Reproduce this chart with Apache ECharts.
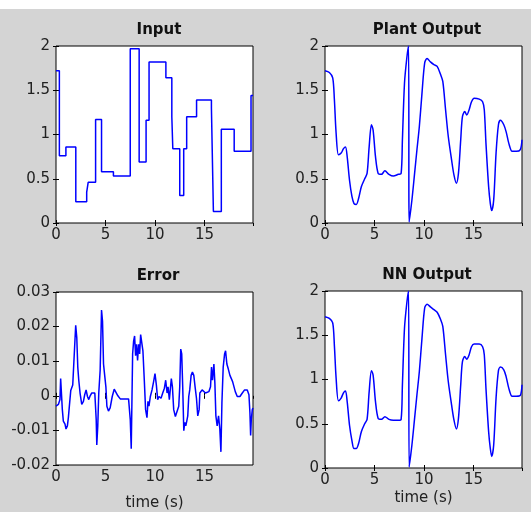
<!DOCTYPE html>
<html>
<head>
<meta charset="utf-8">
<script src="https://cdn.jsdelivr.net/npm/echarts@6/dist/echarts.min.js"></script>
<style>
  html, body { margin: 0; padding: 0; background: #d4d4d4; }
  #strip { position: absolute; left: 0; top: 0; width: 531px; height: 9px; background: #fff; }
  #chart { width: 531px; height: 512px; }
</style>
</head>
<body>
<div id="strip"></div>
<div id="chart"></div>
<script>
// sample-and-hold input (time where each level starts)
const inputTime = [0, 0.34, 1.0, 2.0, 3.1, 3.25, 4.0, 4.6, 5.8, 7.5, 8.4, 9.1, 9.4, 11.1, 11.7, 11.8, 12.5, 12.9, 13.2, 14.2, 15.7, 15.9, 16.7, 18.0, 19.7, 19.9];
const inputValue = [1.72, 0.76, 0.86, 0.24, 0.35, 0.46, 1.17, 0.58, 0.53, 1.97, 0.69, 1.16, 1.82, 1.64, 1.20, 0.84, 0.31, 0.84, 1.20, 1.39, 1.30, 0.13, 1.06, 0.81, 1.44, 1.44];

const plantTime = [0, 0.44, 0.78, 0.95, 1.12, 1.36, 1.63, 1.87, 2.07, 2.24, 2.48, 2.72, 2.93, 3.16, 3.40, 3.67, 4.01, 4.25, 4.46, 4.69, 4.86, 5.10, 5.37, 5.71, 6.05, 6.46, 6.90, 7.41, 7.69, 7.82, 8.03, 8.27, 8.44, 8.50, 8.78, 9.05, 9.29, 9.53, 9.80, 10.07, 10.31, 10.65, 11.0, 11.33, 11.67, 11.9, 12.18, 12.45, 12.79, 13.03, 13.27, 13.48, 13.71, 13.88, 14.12, 14.32, 14.56, 14.8, 15.07, 15.58, 15.92, 16.09, 16.26, 16.53, 16.70, 16.84, 17.04, 17.28, 17.52, 17.72, 18.06, 18.3, 18.57, 18.91, 19.32, 19.73, 19.9];
const plantValue = [1.72, 1.70, 1.64, 1.39, 1.02, 0.77, 0.79, 0.84, 0.86, 0.75, 0.48, 0.30, 0.22, 0.21, 0.28, 0.41, 0.50, 0.56, 0.86, 1.11, 1.05, 0.75, 0.56, 0.55, 0.59, 0.55, 0.53, 0.55, 0.56, 0.94, 1.58, 1.87, 2.0, 0.01, 0.26, 0.56, 0.83, 1.09, 1.47, 1.81, 1.86, 1.82, 1.79, 1.77, 1.68, 1.60, 1.28, 0.98, 0.71, 0.54, 0.45, 0.56, 0.94, 1.20, 1.26, 1.22, 1.28, 1.37, 1.41, 1.40, 1.37, 1.28, 0.90, 0.41, 0.22, 0.14, 0.26, 0.79, 1.11, 1.16, 1.11, 1.03, 0.90, 0.81, 0.81, 0.83, 0.94];

const errorTime = [0, 0.24, 0.4, 0.47, 0.57, 0.64, 0.74, 0.91, 1.01, 1.15, 1.25, 1.35, 1.49, 1.69, 1.89, 1.99, 2.1, 2.2, 2.3, 2.43, 2.6, 2.77, 2.9, 3.04, 3.18, 3.31, 3.45, 3.6, 3.78, 3.92, 4.06, 4.12, 4.22, 4.32, 4.46, 4.6, 4.7, 4.8, 4.9, 5.04, 5.14, 5.3, 5.47, 5.68, 5.88, 6.08, 6.25, 6.49, 6.82, 7.33, 7.5, 7.6, 7.74, 7.84, 7.94, 8.04, 8.14, 8.24, 8.35, 8.45, 8.55, 8.65, 8.78, 8.92, 9.05, 9.19, 9.29, 9.39, 9.53, 9.7, 9.86, 10.0, 10.14, 10.27, 10.4, 10.61, 10.78, 10.95, 11.08, 11.22, 11.32, 11.45, 11.55, 11.65, 11.76, 11.89, 12.06, 12.23, 12.4, 12.5, 12.6, 12.7, 12.8, 12.91, 13.01, 13.11, 13.21, 13.31, 13.41, 13.51, 13.65, 13.78, 13.92, 14.05, 14.19, 14.32, 14.46, 14.53, 14.76, 14.93, 15.1, 15.27, 15.44, 15.61, 15.71, 15.81, 15.95, 16.05, 16.15, 16.28, 16.42, 16.55, 16.66, 16.76, 16.89, 17.03, 17.13, 17.26, 17.4, 17.57, 17.74, 17.84, 17.97, 18.11, 18.31, 18.58, 18.82, 19.05, 19.32, 19.49, 19.59, 19.66, 19.73, 19.83, 19.9];
const errorValue = [-0.0030, -0.0025, -0.0011, 0.0050, 0.0045, -0.0040, -0.0073, -0.0082, -0.0096, -0.0087, -0.0063, -0.0030, 0.0015, 0.0031, 0.0036, 0.0204, 0.0168, 0.0083, 0.0045, 0.0008, -0.0025, -0.0016, 0.0003, 0.0017, -0.0002, -0.0011, 0.0000, 0.0008, 0.0003, 0.0008, -0.0068, -0.0142, -0.0087, 0.0008, 0.0074, 0.0248, 0.0215, 0.0092, 0.0064, 0.0026, -0.0030, -0.0044, -0.0035, -0.0002, 0.0019, 0.0017, 0.0000, -0.0009, -0.0009, -0.0009, -0.0068, -0.0153, 0.0121, 0.0158, 0.0173, 0.0116, 0.0149, 0.0102, 0.0149, 0.0121, 0.0177, 0.0182, 0.0130, 0.0045, -0.0040, -0.0063, -0.0016, -0.0030, -0.0002, 0.0017, 0.0041, 0.0064, 0.0031, -0.0011, -0.0002, -0.0007, 0.0008, 0.0022, 0.0045, 0.0008, 0.0026, -0.0011, -0.0011, 0.0050, 0.0026, -0.0040, -0.0060, -0.0058, -0.0030, 0.0026, 0.0135, 0.0121, 0.0026, -0.0101, -0.0077, -0.0087, -0.0073, -0.0058, -0.0002, 0.0017, 0.0059, 0.0069, 0.0059, 0.0026, -0.0007, -0.0058, -0.0040, 0.0008, 0.0017, 0.0022, 0.0008, 0.0003, 0.0012, 0.0026, 0.0083, 0.0045, 0.0092, 0.0036, -0.0058, -0.0087, -0.0058, -0.0096, -0.0162, -0.0021, 0.0083, 0.0121, 0.0130, 0.0092, 0.0078, 0.0059, 0.0059, 0.0041, 0.0045, 0.0012, -0.0002, -0.0002, 0.0008, 0.0017, 0.0017, 0.0003, -0.0049, -0.0115, -0.0068, -0.0040, -0.0035];

const nnTime = [0, 0.44, 0.78, 0.95, 1.12, 1.36, 1.63, 1.87, 2.07, 2.24, 2.48, 2.72, 2.93, 3.16, 3.40, 3.67, 4.01, 4.25, 4.46, 4.69, 4.86, 5.10, 5.37, 5.71, 6.05, 6.46, 6.90, 7.41, 7.69, 7.82, 8.03, 8.27, 8.44, 8.50, 8.78, 9.05, 9.29, 9.53, 9.80, 10.07, 10.31, 10.65, 11.0, 11.33, 11.67, 11.9, 12.18, 12.45, 12.79, 13.03, 13.27, 13.48, 13.71, 13.88, 14.12, 14.32, 14.56, 14.8, 15.07, 15.58, 15.92, 16.09, 16.26, 16.53, 16.70, 16.84, 17.04, 17.28, 17.52, 17.72, 18.06, 18.3, 18.57, 18.91, 19.32, 19.73, 19.9];
const nnValue = [1.71, 1.69, 1.64, 1.38, 1.02, 0.76, 0.79, 0.85, 0.87, 0.75, 0.48, 0.31, 0.22, 0.22, 0.28, 0.41, 0.50, 0.55, 0.86, 1.10, 1.05, 0.75, 0.56, 0.55, 0.58, 0.55, 0.54, 0.54, 0.55, 0.94, 1.58, 1.87, 2.0, 0.01, 0.26, 0.56, 0.83, 1.09, 1.47, 1.81, 1.85, 1.82, 1.79, 1.76, 1.68, 1.60, 1.28, 0.98, 0.71, 0.54, 0.44, 0.56, 0.94, 1.20, 1.26, 1.23, 1.28, 1.37, 1.40, 1.40, 1.37, 1.28, 0.90, 0.41, 0.22, 0.13, 0.26, 0.79, 1.10, 1.14, 1.11, 1.03, 0.90, 0.81, 0.81, 0.82, 0.94];

const xTicks = [0, 5, 10, 15];

const zip = (t, v) => t.map((x, i) => [x, v[i]]);

const grids = [
    {left: 56, top: 46, width: 197, height: 177},
    {left: 325, top: 46, width: 197, height: 177},
    {left: 56, top: 292, width: 197, height: 176},
    {left: 325, top: 291, width: 197, height: 177}
];
const titles = [
    {text: 'Input', x: 154, y: 18},
    {text: 'Plant Output', x: 422, y: 18},
    {text: 'Error', x: 153, y: 264},
    {text: 'NN Output', x: 422, y: 263}
];
const yRanges = [
    {min: 0, max: 2, interval: 0.5},
    {min: 0, max: 2, interval: 0.5},
    {min: -0.02, max: 0.03, interval: 0.01},
    {min: 0, max: 2, interval: 0.5}
];

const fontFamily = 'DejaVu Sans, sans-serif';
const labelFont = {color: '#222', fontSize: 15, fontFamily: fontFamily};
const tick = {show: true, inside: true, length: 3, lineStyle: {color: '#000'}};

const xAxes = [];
const yAxes = [];
grids.forEach((g, i) => {
    xAxes.push({
        type: 'value', gridIndex: i, min: 0, max: 19.9, interval: 5,
        axisLine: {show: false},
        axisTick: tick,
        splitLine: {show: false},
        axisLabel: Object.assign({margin: 5, showMaxLabel: false,
            formatter: v => xTicks.includes(v) ? String(v) : ''}, labelFont),
        name: i >= 2 ? 'time (s)' : '',
        nameLocation: 'middle',
        nameGap: i === 2 ? 31 : 23,
        nameTextStyle: labelFont
    });
    yAxes.push({
        type: 'value', gridIndex: i,
        min: yRanges[i].min, max: yRanges[i].max, interval: yRanges[i].interval,
        axisLine: {show: false},
        axisTick: tick,
        splitLine: {show: false},
        axisLabel: Object.assign({margin: 6,
            formatter: v => i === 2 ? (Math.abs(v) < 1e-9 ? '0' : v.toFixed(2)) : String(v)}, labelFont)
    });
});
grids.forEach((g, i) => {
    xAxes.push({
        type: 'value', gridIndex: i, position: 'top', min: 0, max: 19.9, interval: 5,
        axisLine: {show: false}, axisTick: tick, axisLabel: {show: false}, splitLine: {show: false}
    });
    yAxes.push({
        type: 'value', gridIndex: i, position: 'right',
        min: yRanges[i].min, max: yRanges[i].max, interval: yRanges[i].interval,
        axisLine: {show: false}, axisTick: tick, axisLabel: {show: false}, splitLine: {show: false}
    });
});

const line = {color: '#0000ff', width: 1.5};
const series = [
    {data: zip(inputTime, inputValue), step: 'end'},
    {data: zip(plantTime, plantValue), smooth: 0.3},
    {data: zip(errorTime, errorValue)},
    {data: zip(nnTime, nnValue), smooth: 0.3}
].map((s, i) => Object.assign({
    type: 'line', xAxisIndex: i, yAxisIndex: i, showSymbol: false,
    lineStyle: line, itemStyle: {color: '#0000ff'}, animation: false
}, s));

const chart = echarts.init(document.getElementById('chart'), null, {renderer: 'canvas'});
chart.setOption({
    backgroundColor: 'transparent',
    animation: false,
    title: titles.map(t => ({
        text: t.text, left: t.x, top: t.y, textAlign: 'center',
        textStyle: {color: '#111', fontSize: 15, fontWeight: 'bold', fontFamily: fontFamily}
    })),
    grid: grids.map(g => Object.assign({show: true, backgroundColor: '#fff', borderColor: '#000', borderWidth: 1}, g)),
    xAxis: xAxes,
    yAxis: yAxes,
    series: series
});
</script>
</body>
</html>
